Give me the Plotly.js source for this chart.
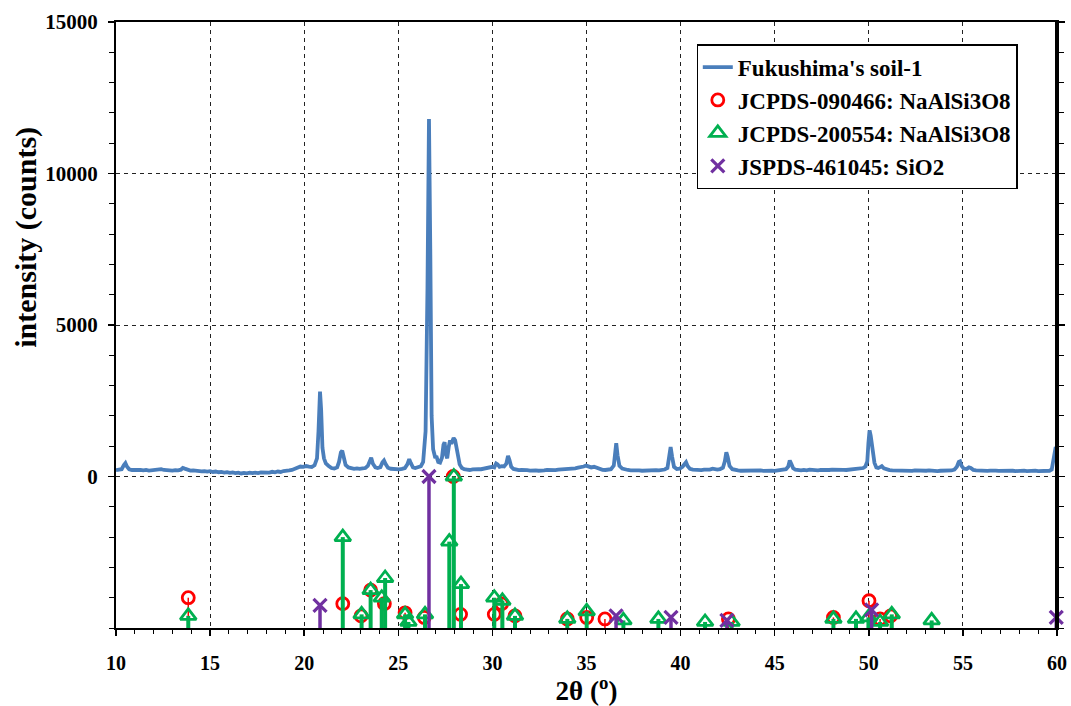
<!DOCTYPE html>
<html>
<head>
<meta charset="utf-8">
<script src="https://cdn.plot.ly/plotly-3.0.1.min.js"></script>
<style>
  html, body { margin: 0; padding: 0; background: #ffffff; }
  #chart { width: 1071px; height: 706px; }
</style>
</head>
<body>
<div id="chart"></div>
<script>
// Measured XRD pattern: 2θ (degrees)
const XRD_2THETA = [
  10.0, 10.15, 10.3, 10.42, 10.5, 10.58, 10.7, 10.85, 11.0, 11.15,
  11.3, 11.45, 11.6, 11.75, 11.9, 12.05, 12.2, 12.3, 12.4, 12.55,
  12.7, 12.85, 13.0, 13.15, 13.3, 13.45, 13.55, 13.65, 13.8, 13.95,
  14.1, 14.25, 14.4, 14.55, 14.7, 14.85, 15.0, 15.15, 15.3, 15.45,
  15.6, 15.75, 15.9, 16.05, 16.2, 16.35, 16.5, 16.65, 16.8, 16.95,
  17.1, 17.25, 17.4, 17.55, 17.7, 17.85, 18.0, 18.15, 18.3, 18.45,
  18.6, 18.75, 18.9, 19.05, 19.2, 19.35, 19.5, 19.65, 19.8, 19.95,
  20.1, 20.25, 20.4, 20.55, 20.68, 20.76, 20.84, 20.9, 20.97, 21.05,
  21.15, 21.3, 21.45, 21.6, 21.75, 21.85, 21.95, 22.02, 22.1, 22.2,
  22.35, 22.5, 22.65, 22.8, 22.95, 23.1, 23.25, 23.38, 23.48, 23.56,
  23.65, 23.78, 23.9, 24.05, 24.16, 24.24, 24.32, 24.45, 24.6, 24.75,
  24.9, 25.05, 25.2, 25.35, 25.48, 25.58, 25.66, 25.78, 25.9, 26.05,
  26.2, 26.32, 26.45, 26.55, 26.63, 26.7, 26.77, 26.85, 26.95, 27.04,
  27.12, 27.22, 27.32, 27.4, 27.46, 27.53, 27.6, 27.68, 27.75, 27.82,
  27.88, 27.94, 28.02, 28.1, 28.18, 28.26, 28.38, 28.5, 28.65, 28.8,
  28.95, 29.1, 29.25, 29.4, 29.55, 29.7, 29.85, 30.0, 30.1, 30.2,
  30.28, 30.38, 30.5, 30.62, 30.74, 30.83, 30.9, 31.0, 31.12, 31.25,
  31.4, 31.55, 31.7, 31.85, 32.0, 32.15, 32.3, 32.45, 32.6, 32.75,
  32.9, 33.05, 33.2, 33.35, 33.5, 33.65, 33.8, 33.95, 34.1, 34.25,
  34.4, 34.55, 34.7, 34.85, 34.98, 35.1, 35.25, 35.4, 35.55, 35.7,
  35.85, 36.0, 36.15, 36.3, 36.45, 36.53, 36.58, 36.65, 36.75, 36.9,
  37.05, 37.2, 37.35, 37.5, 37.65, 37.8, 37.95, 38.1, 38.25, 38.4,
  38.55, 38.7, 38.85, 39.0, 39.15, 39.3, 39.4, 39.47, 39.55, 39.65,
  39.8, 39.95, 40.1, 40.22, 40.29, 40.37, 40.5, 40.65, 40.8, 40.95,
  41.1, 41.25, 41.4, 41.55, 41.7, 41.82, 41.95, 42.1, 42.25, 42.35,
  42.43, 42.5, 42.6, 42.75, 42.9, 43.05, 43.2, 43.35, 43.5, 43.65,
  43.8, 43.95, 44.1, 44.25, 44.4, 44.55, 44.7, 44.85, 45.0, 45.15,
  45.3, 45.45, 45.6, 45.72, 45.8, 45.88, 45.98, 46.1, 46.25, 46.4,
  46.55, 46.7, 46.85, 47.0, 47.15, 47.3, 47.45, 47.6, 47.75, 47.9,
  48.05, 48.2, 48.35, 48.5, 48.65, 48.8, 48.95, 49.1, 49.25, 49.4,
  49.55, 49.7, 49.82, 49.92, 49.98, 50.04, 50.1, 50.16, 50.22, 50.3,
  50.4, 50.5, 50.6, 50.69, 50.8, 50.95, 51.1, 51.25, 51.4, 51.55,
  51.7, 51.85, 52.0, 52.15, 52.3, 52.45, 52.6, 52.75, 52.9, 53.05,
  53.2, 53.35, 53.5, 53.65, 53.8, 53.95, 54.1, 54.25, 54.4, 54.55,
  54.68, 54.78, 54.85, 54.93, 55.05, 55.2, 55.32, 55.42, 55.55, 55.7,
  55.85, 56.0, 56.15, 56.3, 56.45, 56.6, 56.75, 56.9, 57.05, 57.2,
  57.35, 57.5, 57.65, 57.8, 57.95, 58.1, 58.25, 58.4, 58.55, 58.7,
  58.85, 59.0, 59.15, 59.3, 59.45, 59.6, 59.72, 59.8, 59.87, 59.93,
  60.0
];
// Measured XRD pattern: intensity (counts), same order as XRD_2THETA
const XRD_COUNTS = [
  210, 225, 240, 380, 440, 330, 240, 215, 225, 205,
  220, 200, 215, 195, 210, 225, 215, 255, 240, 215,
  205, 220, 195, 210, 200, 225, 285, 260, 210, 195,
  200, 180, 190, 170, 180, 160, 175, 150, 165, 140,
  150, 130, 145, 120, 135, 110, 125, 100, 120, 105,
  125, 110, 130, 115, 135, 125, 145, 130, 155, 140,
  165, 150, 180, 175, 200, 215, 260, 300, 330, 320,
  345, 325, 315, 370, 600, 1500, 2800, 2200, 950, 600,
  430, 350, 280, 260, 300, 480, 800, 850, 620, 380,
  300, 270, 255, 270, 250, 265, 280, 350, 560, 620,
  420, 300, 280, 310, 470, 530, 420, 290, 255, 240,
  250, 235, 250, 280, 400, 570, 450, 300, 280, 310,
  340, 480, 1500, 6200, 11800, 7500, 2000, 900, 650, 640,
  480, 460, 620, 1050, 1130, 720, 600, 980, 1190, 1080,
  1230, 1270, 1200, 950, 600, 400, 280, 240, 230, 215,
  235, 225, 245, 240, 260, 255, 280, 320, 300, 430,
  400, 320, 340, 330, 420, 680, 560, 320, 250, 230,
  210, 220, 200, 210, 195, 210, 200, 190, 210, 200,
  215, 205, 220, 210, 225, 230, 240, 235, 255, 250,
  270, 290, 300, 330, 360, 340, 300, 320, 280, 250,
  220, 215, 225, 240, 360, 900, 1100, 700, 350, 260,
  230, 215, 205, 215, 195, 205, 190, 200, 195, 205,
  200, 210, 205, 215, 230, 280, 600, 970, 650, 320,
  250, 260, 320, 420, 470, 350, 250, 225, 215, 225,
  210, 225, 215, 230, 260, 240, 225, 245, 290, 500,
  800, 650, 350, 240, 210, 200, 190, 195, 180, 190,
  185, 200, 190, 200, 185, 195, 180, 190, 185, 195,
  200, 210, 240, 330, 530, 420, 270, 225, 210, 200,
  220, 205, 225, 210, 220, 200, 215, 205, 220, 215,
  230, 220, 215, 205, 220, 215, 230, 225, 240, 245,
  260, 280, 330, 500, 1100, 1520, 1350, 1100, 800, 450,
  300, 280, 310, 340, 270, 225, 210, 200, 195, 205,
  190, 205, 195, 200, 185, 200, 190, 185, 195, 190,
  200, 185, 195, 180, 190, 185, 195, 190, 200, 230,
  320, 480, 500, 350, 260, 250, 300, 280, 220, 205,
  195, 190, 200, 185, 195, 180, 195, 185, 190, 180,
  195, 185, 190, 180, 190, 185, 195, 180, 190, 185,
  195, 180, 190, 185, 195, 190, 230, 500, 900, 970,
  880
];

// Reference patterns: peak position (2θ) and relative intensity (%)
const ALBITE_A_2THETA = [13.84, 22.05, 23.02, 23.53, 24.26, 25.36, 26.38, 27.92, 28.31, 30.10,
  30.49, 31.20, 33.98, 35.01, 35.98, 42.54, 48.12, 50.01, 50.60, 51.16];
const ALBITE_A_REL = [20, 16, 8, 25, 16, 10, 7, 100, 9, 9,
  16, 8, 6, 7, 6, 6, 7, 18, 6, 8];

const ALBITE_B_2THETA = [13.84, 22.05, 23.05, 23.53, 24.12, 24.30, 25.36, 25.54, 26.42, 27.71,
  27.95, 28.33, 30.10, 30.53, 31.20, 33.98, 35.01, 36.96, 38.82, 41.30, 42.71, 48.12, 49.32,
  49.98, 50.60, 51.22, 53.34];
const ALBITE_B_REL = [8, 60, 9, 25, 20, 33, 9, 4, 9, 57,
  100, 29, 20, 18, 8, 6, 11, 5, 6, 4, 4, 6, 6,
  7, 4, 9, 5];

const QUARTZ_2THETA = [20.84, 26.63, 36.57, 39.49, 42.46, 50.15, 59.96];
const QUARTZ_REL = [15, 100, 8, 7, 5, 12, 7];

// Series names and axis labels
const SERIES_NAMES = [
  "Fukushima's soil-1",
  "JCPDS-090466: NaAlSi3O8",
  "JCPDS-200554: NaAlSi3O8",
  "JSPDS-461045: SiO2"
];
const X_TICKS = [10, 15, 20, 25, 30, 35, 40, 45, 50, 55, 60];
const Y_TICKS = [0, 5000, 10000, 15000];
const Y_TICK_TEXT = ['0', '5000', '10000', '15000'];
const X_TITLE = "2θ (<sup>o</sup>)";
const Y_TITLE = "intensity (counts)";

// Stick patterns sit in the band below zero: 0 % at the bottom, 100 % at zero
const STICK_BASE = -5000;
const STICK_SPAN = 5000;

const FONT = 'Liberation Serif';

function stickTrace(name, xs, rel, color, symbol, size, lineW, stemW) {
  const tops = rel.map(r => STICK_BASE + STICK_SPAN * r / 100);
  return {
    type: 'scatter',
    mode: 'markers',
    name: name,
    legendgroup: name,
    x: xs,
    y: tops,
    cliponaxis: false,
    marker: {
      symbol: symbol,
      size: size,
      color: color,
      line: { color: color, width: lineW }
    },
    error_y: {
      type: 'data',
      symmetric: false,
      array: tops.map(() => 0),
      arrayminus: tops.map(t => t - STICK_BASE),
      color: color,
      thickness: stemW,
      width: 0
    }
  };
}

const traces = [
  {
    type: 'scatter',
    mode: 'lines',
    name: SERIES_NAMES[0],
    legendgroup: SERIES_NAMES[0],
    x: XRD_2THETA,
    y: XRD_COUNTS,
    line: { color: '#4a7ebb', width: 3.8 }
  },
  stickTrace(SERIES_NAMES[1], ALBITE_A_2THETA, ALBITE_A_REL, '#ff0000', 'circle-open', 12, 2.8, 1.5),
  stickTrace(SERIES_NAMES[2], ALBITE_B_2THETA, ALBITE_B_REL, '#00b050', 'triangle-up-open', 14, 2.8, 4),
  stickTrace(SERIES_NAMES[3], QUARTZ_2THETA, QUARTZ_REL, '#7030a0', 'x-thin-open', 13, 3.2, 3.5)
];

const layout = {
  width: 1071,
  height: 706,
  margin: { l: 116, r: 14, t: 22, b: 78 },
  paper_bgcolor: '#ffffff',
  plot_bgcolor: '#ffffff',
  font: { family: FONT, size: 19, color: '#000000', weight: 'bold' },
  showlegend: true,
  legend: {
    x: 0.617, y: 0.963, xanchor: 'left', yanchor: 'top',
    bgcolor: '#ffffff', bordercolor: '#000000', borderwidth: 1.2,
    font: { family: FONT, size: 23, color: '#000000', weight: 'bold' },
    tracegroupgap: 9,
    traceorder: 'normal'
  },
  xaxis: {
    range: [10, 60],
    tickvals: X_TICKS,
    ticks: 'outside', ticklen: 6, tickwidth: 1.5, tickcolor: '#000000',
    ticklabelstandoff: 10,
    tickfont: { family: FONT, size: 20, color: '#000000', weight: 'bold' },
    showline: true, linecolor: '#000000', linewidth: 2, mirror: true,
    showgrid: true, gridcolor: '#222222', gridwidth: 1, griddash: '4px,4px',
    zeroline: false,
    minor: { dtick: 1, tick0: 10, ticks: 'outside', ticklen: 4, tickwidth: 1, tickcolor: '#000000', showgrid: false },
    title: { text: X_TITLE, standoff: 8, font: { family: FONT, size: 27, color: '#000000', weight: 'bold' } }
  },
  yaxis: {
    range: [-5000, 15000],
    tickvals: Y_TICKS,
    ticktext: Y_TICK_TEXT,
    ticks: 'outside', ticklen: 6, tickwidth: 1.5, tickcolor: '#000000',
    ticklabelstandoff: 6,
    tickfont: { family: FONT, size: 21, color: '#000000', weight: 'bold' },
    showline: true, linecolor: '#000000', linewidth: 2, mirror: 'ticks',
    showgrid: true, gridcolor: '#222222', gridwidth: 1, griddash: '4px,4px',
    zeroline: false,
    minor: { dtick: 1000, tick0: 0, ticks: 'outside', ticklen: 5, tickwidth: 1, tickcolor: '#000000', showgrid: false }
  },
  shapes: [
    { type: 'line', xref: 'paper', yref: 'paper', x0: 1, x1: 1, y0: 0, y1: 1,
      line: { color: '#000000', width: 4 }, layer: 'above' }
  ],
  annotations: [
    { text: Y_TITLE, xref: 'paper', yref: 'paper', x: -0.0956, y: 0.644,
      xanchor: 'center', yanchor: 'middle', textangle: -90, showarrow: false,
      font: { family: FONT, size: 30, color: '#000000', weight: 'bold' } }
  ]
};

Plotly.newPlot('chart', traces, layout, { displayModeBar: false, staticPlot: true });
</script>
</body>
</html>
